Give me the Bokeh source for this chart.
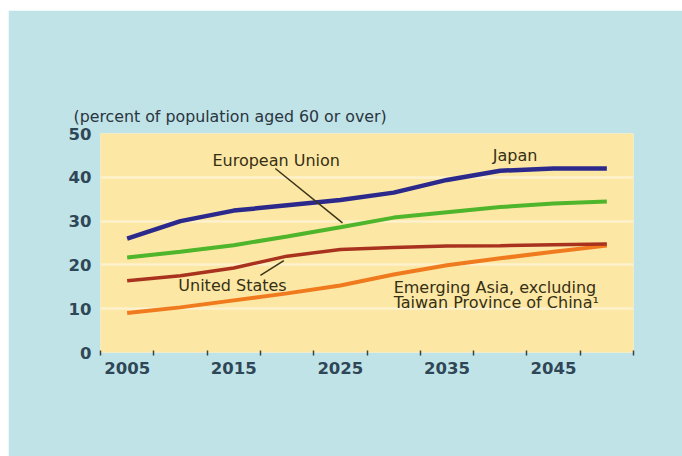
from bokeh.plotting import figure
from bokeh.models import FixedTicker, Label, Range1d
from bokeh.embed import file_html
from bokeh.resources import INLINE

years = [2005, 2010, 2015, 2020, 2025, 2030, 2035, 2040, 2045, 2050]
japan = [26.0, 30.0, 32.4, 33.6, 34.8, 36.5, 39.4, 41.5, 42.0, 42.0]
eu = [21.7, 23.0, 24.5, 26.5, 28.6, 30.8, 32.0, 33.2, 34.0, 34.5]
us = [16.4, 17.5, 19.3, 22.0, 23.5, 24.0, 24.3, 24.4, 24.6, 24.8]
asia = [9.0, 10.3, 11.9, 13.5, 15.3, 17.8, 19.9, 21.5, 23.0, 24.4]

x_labels = [2005, 2015, 2025, 2035, 2045]
x_minor = [2002.5, 2007.5, 2012.5, 2017.5, 2022.5, 2027.5, 2032.5, 2037.5, 2042.5, 2047.5, 2052.5]
y_ticks = [0, 10, 20, 30, 40, 50]
grid_ticks = [10, 20, 30, 40]

title_text = "(percent of population aged 60 or over)"

FONT = "DejaVu Sans"
TICK_COLOR = "#2f4656"
ANN_COLOR = "#352f14"

p = figure(width=674, height=446, output_backend="svg", toolbar_location=None,
           x_range=Range1d(2002.5, 2052.5), y_range=Range1d(0, 50),
           min_border_left=92, min_border_right=49, min_border_top=123, min_border_bottom=104)
p.margin = (10, 0, 0, 8)

p.border_fill_color = "#c0e3e7"
p.background_fill_color = "#fce7a4"
p.outline_line_color = None

p.title.text = title_text
p.title.text_font = FONT
p.title.text_font_size = "15.8px"
p.title.text_font_style = "normal"
p.title.text_color = "#2a3540"
p.title.align = "left"
p.title.offset = -27
p.title.standoff = 15

# axes
p.xaxis.ticker = FixedTicker(ticks=x_labels, minor_ticks=x_minor)
p.xaxis.axis_line_color = None
p.xaxis.major_tick_line_color = None
p.xaxis.minor_tick_line_color = "#34454c"
p.xaxis.minor_tick_line_width = 1.5
p.xaxis.minor_tick_in = 2
p.xaxis.minor_tick_out = 3
p.xaxis.major_label_text_font = FONT
p.xaxis.major_label_text_font_style = "bold"
p.xaxis.major_label_text_font_size = "16.5px"
p.xaxis.major_label_text_color = TICK_COLOR
p.xaxis.major_label_standoff = 3

p.yaxis.ticker = FixedTicker(ticks=y_ticks)
p.yaxis.axis_line_color = None
p.yaxis.major_tick_line_color = None
p.yaxis.minor_tick_line_color = None
p.yaxis.major_label_text_font = FONT
p.yaxis.major_label_text_font_style = "bold"
p.yaxis.major_label_text_font_size = "16.5px"
p.yaxis.major_label_text_color = TICK_COLOR
p.yaxis.major_label_standoff = 3

p.xgrid.grid_line_color = None
p.ygrid.ticker = FixedTicker(ticks=grid_ticks)
p.ygrid.grid_line_color = "#ffffff"
p.ygrid.grid_line_alpha = 0.45
p.ygrid.grid_line_width = 2.5

# lines
p.line(years, asia, line_color="#f07a1e", line_width=4)
p.line(years, us, line_color="#a8321e", line_width=3.5)
p.line(years, eu, line_color="#4fb52a", line_width=4)
p.line(years, japan, line_color="#2b2a8c", line_width=4.5)

# leader lines
p.line([2018.9, 2025.2], [42.0, 29.6], line_color="#3a3418", line_width=1.5)
p.line([2017.5, 2019.7], [17.6, 21.0], line_color="#3a3418", line_width=1.5)

def ann(x, y, t):
    p.add_layout(Label(x=x, y=y, text=t, text_font=FONT, text_font_size="16px",
                       text_color=ANN_COLOR, text_baseline="middle", text_align="left"))

ann(2013.0, 43.8, "European Union")
ann(2039.3, 45.0, "Japan")
ann(2009.8, 15.3, "United States")
ann(2030.0, 14.8, "Emerging Asia, excluding")
ann(2030.0, 11.4, "Taiwan Province of China\u00b9")

open("out.html", "w").write(file_html(p, INLINE))
